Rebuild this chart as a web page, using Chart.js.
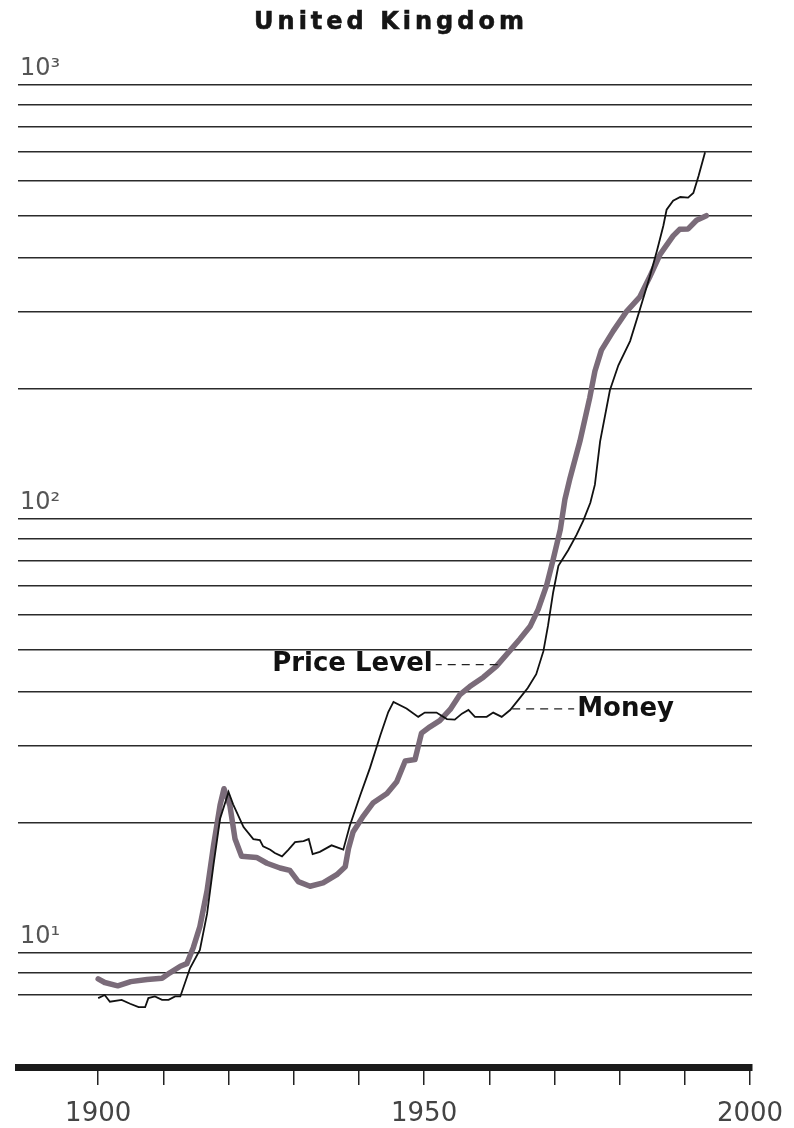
<!DOCTYPE html>
<html>
<head>
<meta charset="utf-8">
<title>United Kingdom</title>
<script src="https://cdn.jsdelivr.net/npm/chart.js@4.4.1/dist/chart.umd.min.js"></script>
<style>
  html, body { margin: 0; padding: 0; background: #fff; }
  #wrap { position: relative; width: 794px; height: 1128px; }
  #ukChart { position: absolute; left: 0; top: 0; }
  #title {
    position: absolute; top: 9px; left: -6px; width: 794px; text-align: center;
    font: bold 24px/24px "DejaVu Sans", sans-serif; letter-spacing: 4px; color: #151515;
    -webkit-text-stroke: 0.6px #151515;
  }
</style>
</head>
<body>
<div id="wrap">
  <canvas id="ukChart" width="794" height="1128"></canvas>
  <div id="title">United Kingdom</div>
</div>
<script>
// ===== DATA (log scale) =====
const priceYears = [1900, 1901, 1903, 1905, 1907.5, 1909.8, 1911, 1912.6, 1913.6, 1914.6, 1915.6,
  1916.7, 1917.7, 1918.7, 1919.3, 1920.2, 1921, 1922, 1924.3, 1925.9, 1927.9,
  1929.4, 1930.7, 1932.5, 1934.5, 1936.6, 1937.9, 1938.4, 1939.1, 1940.7, 1942.2,
  1944.3, 1945.8, 1947.1, 1948.6, 1949.6, 1950.9, 1952.4, 1954, 1955.5, 1957,
  1959.1, 1961.1, 1963.2, 1964.7, 1966.3, 1967.5, 1968.8, 1969.8, 1970.9, 1971.6,
  1972.4, 1973.9, 1975.4, 1976.2, 1977.2, 1979, 1981, 1983.1, 1984.6, 1986.2,
  1988.2, 1989.2, 1990.5, 1991.8, 1993.3];
const priceLevel = [8.72, 8.55, 8.40, 8.59, 8.69, 8.74, 9.0, 9.32, 9.45, 10.3, 11.5,
  13.9, 17.7, 21.9, 23.9, 21.9, 18.3, 16.7, 16.6, 16.1, 15.7,
  15.5, 14.6, 14.25, 14.5, 15.15, 15.8, 17.4, 19.0, 20.7, 22.2,
  23.3, 24.8, 27.7, 27.9, 32.1, 33.2, 34.3, 36.4, 39.4, 41.1,
  43.2, 45.8, 49.8, 52.9, 56.7, 61.9, 70.4, 80.7, 94.6, 111,
  124.5, 151, 190, 219, 245, 271, 300, 325, 361, 407,
  449, 465, 466, 488, 500];

const moneyYears = [1900, 1901, 1901.8, 1903.6, 1904.9, 1906.2, 1907.2, 1907.7, 1908.7, 1909.8,
  1910.8, 1911.8, 1912.6, 1914.1, 1915.6, 1916.7, 1917.7, 1918.7, 1920, 1920.7,
  1922.3, 1923.8, 1924.8, 1925.3, 1926.4, 1927.1, 1928.2, 1929.2, 1930.2, 1931.5,
  1932.3, 1932.9, 1934, 1935.8, 1937.6, 1938.6, 1940.2, 1941.7, 1943.3, 1944.5,
  1945.3, 1947.3, 1949.1, 1950.1, 1951.9, 1953.5, 1954.7, 1955.8, 1956.8, 1957.8,
  1959.6, 1960.6, 1961.9, 1963.2, 1964.7, 1965.9, 1967.2, 1968.3, 1969, 1969.8,
  1970.6, 1972.1, 1973.4, 1974.4, 1975.5, 1976.2, 1977, 1978.5, 1979.8, 1981.6,
  1983.1, 1984.6, 1985.7, 1986.7, 1987.2, 1988.2, 1989.3, 1990.5, 1991.3, 1992.1,
  1993.1];
const moneyStock = [7.87, 8.0, 7.72, 7.8, 7.64, 7.5, 7.5, 7.87, 7.94, 7.8,
  7.8, 7.94, 7.94, 9.23, 10.16, 12.3, 16.0, 20.4, 23.5, 22.0,
  19.5, 18.3, 18.2, 17.6, 17.3, 17.0, 16.7, 17.3, 18.0, 18.1,
  18.3, 16.9, 17.1, 17.7, 17.3, 19.65, 23.1, 26.7, 31.8, 35.9,
  37.9, 36.6, 35.0, 35.8, 35.8, 34.6, 34.5, 35.6, 36.3, 35.0,
  35.0, 35.8, 35.0, 36.3, 38.7, 40.8, 43.9, 49.6, 56.7, 67.8,
  78, 84.7, 92, 99, 109, 120, 151, 198, 226, 257,
  304, 361, 414, 474, 516, 541, 552, 550, 564, 617,
  700];

const yTicks = [8, 9, 10, 20, 30, 40, 50, 60, 70, 80, 90, 100, 200, 300, 400, 500, 600, 700, 800, 900, 1000];
const yTickLabels = { 10: '10\u00B9', 100: '10\u00B2', 1000: '10\u00B3' };
const xTicks = [1900, 1910, 1920, 1930, 1940, 1950, 1960, 1970, 1980, 1990, 2000];
const xTickLabels = [1900, 1950, 2000];

// series labels with dashed leaders, anchored on the curve
const callouts = [
  { text: 'Price Level', year: 1961.6, value: 46.2, side: 'left' },
  { text: 'Money',       year: 1963.2, value: 36.5, side: 'right' },
];

const toPoints = (xs, ys) => xs.map((x, i) => ({ x, y: ys[i] }));

const calloutPlugin = {
  id: 'callouts',
  afterDatasetsDraw(chart) {
    const { ctx, scales: { x, y } } = chart;
    ctx.save();
    ctx.font = 'bold 26px "DejaVu Sans"';
    ctx.fillStyle = '#111';
    ctx.strokeStyle = '#222';
    ctx.lineWidth = 1.3;
    ctx.textBaseline = 'middle';
    callouts.forEach(c => {
      const px = x.getPixelForValue(c.year), py = y.getPixelForValue(c.value);
      const dir = c.side === 'left' ? -1 : 1;
      ctx.setLineDash([8, 6]);
      ctx.beginPath();
      ctx.moveTo(px + dir * 2, py);
      ctx.lineTo(px + dir * 64, py);
      ctx.stroke();
      ctx.setLineDash([]);
      ctx.textAlign = c.side === 'left' ? 'right' : 'left';
      ctx.fillText(c.text, px + dir * 67, py);
    });
    ctx.restore();
  }
};

new Chart(document.getElementById('ukChart'), {
  type: 'line',
  data: {
    datasets: [
      { label: 'Money', data: toPoints(moneyYears, moneyStock), order: 0,
        borderColor: '#111', borderWidth: 1.8, pointRadius: 0, tension: 0 },
      { label: 'Price Level', data: toPoints(priceYears, priceLevel), order: 1,
        borderColor: '#7a6b79', borderWidth: 5.5, pointRadius: 0, tension: 0,
        borderJoinStyle: 'round', borderCapStyle: 'round' },
    ]
  },
  options: {
    responsive: false,
    animation: false,
    layout: { padding: { left: 18, right: 42, top: 85, bottom: 0 } },
    plugins: { legend: { display: false }, tooltip: { enabled: false } },
    scales: {
      x: {
        type: 'linear', min: 1887.7, max: 2000.3,
        afterBuildTicks: s => { s.ticks = xTicks.map(v => ({ value: v })); },
        afterFit: s => { s.height = 61; s.paddingLeft = 0; s.paddingRight = 0; },
        grid: { drawOnChartArea: false, drawTicks: true, tickLength: 18, color: '#222', lineWidth: 1.5 },
        border: { display: true, width: 7, color: '#1a1a1a' },
        ticks: {
          autoSkip: false, maxRotation: 0, padding: 14, color: '#444',
          font: { family: '"DejaVu Sans"', size: 26 },
          callback: v => xTickLabels.includes(v) ? String(v) : ''
        }
      },
      y: {
        type: 'logarithmic', min: 5.461, max: 1000,
        afterBuildTicks: s => { s.ticks = yTicks.map(v => ({ value: v })); },
        afterFit: s => { s.width = 0; s.paddingTop = 0; s.paddingBottom = 0; },
        grid: { drawTicks: false, color: '#2b2b2b', lineWidth: 1.6 },
        border: { display: false },
        ticks: {
          mirror: true, autoSkip: false, padding: 2, labelOffset: -16, color: '#555',
          font: { family: '"DejaVu Sans"', size: 24 },
          callback: v => yTickLabels[v] || ''
        }
      }
    }
  },
  plugins: [calloutPlugin]
});
</script>
</body>
</html>
